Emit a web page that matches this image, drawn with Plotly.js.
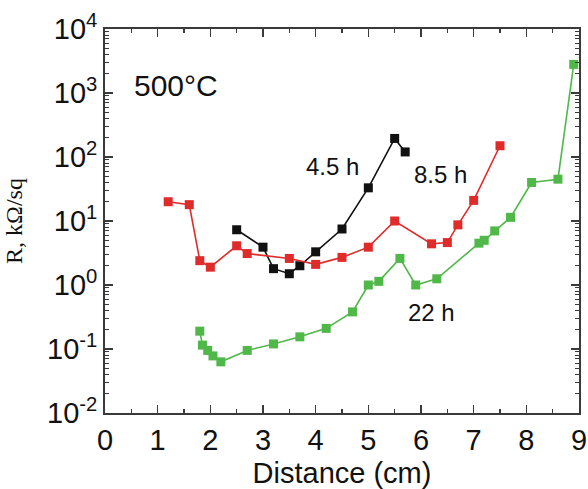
<!DOCTYPE html>
<html>
<head>
<meta charset="utf-8">
<script src="https://cdn.plot.ly/plotly-3.0.1.min.js"></script>
<style>html,body{margin:0;padding:0;background:#fff;}</style>
</head>
<body>
<div id="chart" style="width:588px;height:489px;"></div>
<script>
// 4.5 h series (black)
const x45 = [2.5, 3.0, 3.2, 3.5, 3.7, 4.0, 4.5, 5.0, 5.5, 5.7];
const y45 = [7.3, 3.9, 1.8, 1.5, 2.0, 3.3, 7.5, 33, 195, 120];
// 8.5 h series (red)
const x85 = [1.2, 1.6, 1.8, 2.0, 2.5, 2.7, 3.5, 4.0, 4.5, 5.0, 5.5, 6.2, 6.5, 6.7, 7.0, 7.5];
const y85 = [20, 18, 2.4, 1.9, 4.1, 3.1, 2.6, 2.1, 2.7, 3.9, 10, 4.4, 4.6, 8.7, 21, 150];
// 22 h series (green)
const x22 = [1.8, 1.85, 1.95, 2.05, 2.2, 2.7, 3.2, 3.7, 4.2, 4.7, 5.0, 5.2, 5.6, 5.9, 6.3, 7.1, 7.2, 7.4, 7.7, 8.1, 8.6, 8.9];
const y22 = [0.19, 0.115, 0.095, 0.078, 0.063, 0.095, 0.12, 0.155, 0.21, 0.38, 1.0, 1.14, 2.6, 1.0, 1.25, 4.5, 5.0, 7.0, 11.4, 40, 45, 2800];

const yTickVals = [0.01, 0.1, 1, 10, 100, 1000, 10000];
const yTickText = ['10<sup>-2</sup>', '10<sup>-1</sup>', '10<sup>0</sup>', '10<sup>1</sup>', '10<sup>2</sup>', '10<sup>3</sup>', '10<sup>4</sup>'];
const xTickVals = [0, 1, 2, 3, 4, 5, 6, 7, 8, 9];

const seriesNames = ['4.5 h', '8.5 h', '22 h'];
const colors = ['#111111', '#e02b2b', '#4fb848'];

function mk(x, y, name, color) {
  return {
    x: x, y: y, name: name, type: 'scatter', mode: 'lines+markers',
    line: {color: color, width: 1.6},
    marker: {symbol: 'square', size: 9, color: color},
    showlegend: false
  };
}

const data = [
  mk(x45, y45, seriesNames[0], colors[0]),
  mk(x85, y85, seriesNames[1], colors[1]),
  mk(x22, y22, seriesNames[2], colors[2])
];

const axisLine = '#3a3a3a';
function label(text, x, y, size) {
  return {text: text, xref: 'paper', yref: 'paper', x: x, y: y,
          xanchor: 'center', yanchor: 'middle', showarrow: false, font: {size: size}};
}

const layout = {
  width: 588, height: 489,
  margin: {l: 105, r: 9, t: 29, b: 76},
  paper_bgcolor: '#ffffff', plot_bgcolor: '#ffffff',
  font: {family: '"Liberation Sans", Arial, sans-serif', color: '#111'},
  xaxis: {
    range: [0, 9], tickvals: xTickVals, ticktext: xTickVals.map(String),
    ticks: 'inside', ticklen: 8, tickwidth: 1.5, tickcolor: axisLine,
    minor: {ticks: 'inside', ticklen: 4, tickwidth: 1.2, tickcolor: axisLine, dtick: 0.5},
    showline: true, linecolor: axisLine, linewidth: 1.8, mirror: 'allticks',
    showgrid: false, zeroline: false,
    tickfont: {size: 29},
    title: {text: 'Distance (cm)', font: {size: 29}, standoff: 8}
  },
  yaxis: {
    type: 'log', range: [-2, 4], tickvals: yTickVals, ticktext: yTickText,
    ticks: 'inside', ticklen: 8, tickwidth: 1.5, tickcolor: axisLine,
    minor: {ticks: 'inside', ticklen: 4, tickwidth: 1, tickcolor: axisLine, dtick: 'D1'},
    showline: true, linecolor: axisLine, linewidth: 1.8, mirror: 'allticks',
    showgrid: false, zeroline: false,
    tickfont: {size: 29},
    title: {text: 'R, kΩ/sq', font: {size: 24, family: '"Liberation Serif", "Times New Roman", serif'}, standoff: 18}
  },
  annotations: [
    label('500°C', 0.150, 0.852, 30),
    label(seriesNames[0], 0.479, 0.641, 24),
    label(seriesNames[1], 0.707, 0.622, 24),
    label(seriesNames[2], 0.688, 0.263, 24)
  ]
};

Plotly.newPlot('chart', data, layout, {displayModeBar: false, staticPlot: true});
</script>
</body>
</html>
